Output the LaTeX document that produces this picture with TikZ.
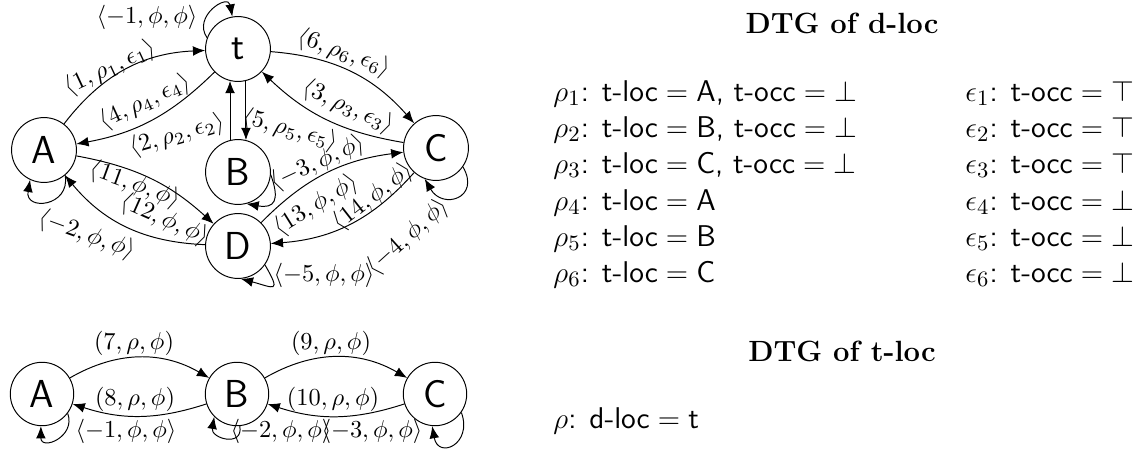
\documentclass[tikz,border=0pt]{standalone}
\usetikzlibrary{arrows.meta}
\begin{document}
\begin{tikzpicture}[x=0.41pt,y=0.41pt,
  state/.style={circle,draw,minimum size=26.6pt,inner sep=0pt,font=\sffamily\fontsize{16}{19}\selectfont},
  bstate/.style={state,minimum size=26pt},
  arr/.style={-{Latex[length=5pt,width=4pt]}},
  lbl/.style={inner sep=0pt,font=\normalsize},
  txt/.style={anchor=base west,inner sep=0pt,font=\fontsize{12.3}{15}\selectfont},
  ttl/.style={anchor=base,inner sep=0pt,font=\large\bfseries}]
\useasboundingbox (0,0) rectangle (1135,448);
% ---------- DTG of d-loc (graph) ----------
\node[state] (t) at (238,399) {t};
\node[state] (A) at (44,298) {A};
\node[state] (B) at (238,276) {B};
\node[state] (D) at (238,202) {D};
\node[state] (C) at (436,300) {C};
\draw[arr] (A) to[bend left=25] (t);
\draw[arr] (t) to[bend left=17] (A);
\draw[arr] (B.104) -- (t.256);
\draw[arr] (t.284) -- (B.76);
\draw[arr] (t) to[bend left=22] (C);
\draw[arr] (C) to[bend left=17] (t);
\draw[arr] (A) to[bend left=16] (D);
\draw[arr] (D) to[bend left=24] (A);
\draw[arr] (D) to[bend left=19] (C);
\draw[arr] (C) to[bend left=22] (D);
\draw[arr] (t.160) .. controls +(125:26) and +(100:24) .. (t.100);
\draw[arr] (A.-50) .. controls +(-80:32) and +(-100:32) .. (A.-115);
\draw[arr] (B.-5) .. controls +(-70:28) and +(-10:28) .. (B.-75);
\draw[arr] (C.-35) .. controls +(-60:36) and +(-60:36) .. (C.-110);
\draw[arr] (D.-35) .. controls +(-60:34) and +(-15:34) .. (D.-85);
\node[lbl] (lm1) at (147,431) {$\langle -1,\phi,\phi\rangle$};
\node[lbl,rotate=25] (l1) at (110,380) {$\langle 1,\rho_1,\epsilon_1\rangle$};
\node[lbl,rotate=25] (l4) at (145,346) {$\langle 4,\rho_4,\epsilon_4\rangle$};
\node[lbl,rotate=16] (l2) at (177,313) {$\langle 2,\rho_2,\epsilon_2\rangle$};
\node[lbl,rotate=-15] (l5) at (290,318) {$\langle 5,\rho_5,\epsilon_5\rangle$};
\node[lbl,rotate=-20] (l6) at (344,395) {$\langle 6,\rho_6,\epsilon_6\rangle$};
\node[lbl,rotate=-24] (l3) at (348,341) {$\langle 3,\rho_3,\epsilon_3\rangle$};
\node[lbl,rotate=25] (lm3) at (318,285) {$\langle -3,\phi,\phi\rangle$};
\node[lbl,rotate=-20] (l11) at (135,263) {$\langle 11,\phi,\phi\rangle$};
\node[lbl,rotate=-24] (l12) at (165,228) {$\langle 12,\phi,\phi\rangle$};
\node[lbl,rotate=-20] (lm2) at (87,213) {$\langle -2,\phi,\phi\rangle$};
\node[lbl,rotate=32] (l13) at (316,243) {$\langle 13,\phi,\phi\rangle$};
\node[lbl,rotate=38] (l14) at (373,251) {$\langle 14,\phi,\phi\rangle$};
\node[lbl,rotate=42] (lm4) at (408,211) {$\langle -4,\phi,\phi\rangle$};
\node[lbl] (lm5) at (324,173) {$\langle -5,\phi,\phi\rangle$};
% ---------- DTG of t-loc (graph) ----------
\node[bstate] (A2) at (42,54) {A};
\node[bstate] (B2) at (237,54) {B};
\node[bstate] (C2) at (435,54) {C};
\draw[arr] (A2) to[bend left=30] (B2);
\draw[arr] (B2) to[bend left=18] (A2);
\draw[arr] (B2) to[bend left=30] (C2);
\draw[arr] (C2) to[bend left=18] (B2);
\draw[arr] (A2.-37) .. controls +(-70:25) and +(-90:25) .. (A2.-92);
\draw[arr] (B2.-85) .. controls +(-80:22) and +(-100:22) .. (B2.-135);
\draw[arr] (C2.-35) .. controls +(-70:34) and +(-80:34) .. (C2.-95);
\node[lbl] (b7) at (134,105) {$(7,\rho,\phi)$};
\node[lbl] (b8) at (135,49) {$(8,\rho,\phi)$};
\node[lbl] (b9) at (331,105) {$(9,\rho,\phi)$};
\node[lbl] (b10) at (333,49) {$(10,\rho,\phi)$};
\node[lbl] (bm1) at (126,17) {$\langle -1,\phi,\phi\rangle$};
\node[lbl] (bm2) at (281,17) {$\langle -2,\phi,\phi\rangle$};
\node[lbl] (bm3) at (372,17) {$\langle -3,\phi,\phi\rangle$};
% ---------- text ----------
\node[ttl] (T1) at (842,415) {DTG of d-loc};
\node[txt] (r1) at (553,347) {$\rho_1\textsf{: t-loc} = \textsf{A, t-occ} = \bot$};
\node[txt] (r2) at (553,311) {$\rho_2\textsf{: t-loc} = \textsf{B, t-occ} = \bot$};
\node[txt] (r3) at (553,275) {$\rho_3\textsf{: t-loc} = \textsf{C, t-occ} = \bot$};
\node[txt] (r4) at (553,238) {$\rho_4\textsf{: t-loc} = \textsf{A}$};
\node[txt] (r5) at (553,202) {$\rho_5\textsf{: t-loc} = \textsf{B}$};
\node[txt] (r6) at (553,166) {$\rho_6\textsf{: t-loc} = \textsf{C}$};
\node[txt] (e1) at (965,347) {$\epsilon_1\textsf{: t-occ} = \top$};
\node[txt] (e2) at (965,311) {$\epsilon_2\textsf{: t-occ} = \top$};
\node[txt] (e3) at (965,275) {$\epsilon_3\textsf{: t-occ} = \top$};
\node[txt] (e4) at (965,238) {$\epsilon_4\textsf{: t-occ} = \bot$};
\node[txt] (e5) at (965,202) {$\epsilon_5\textsf{: t-occ} = \bot$};
\node[txt] (e6) at (965,166) {$\epsilon_6\textsf{: t-occ} = \bot$};
\node[ttl] (T2) at (842,87) {DTG of t-loc};
\node[txt] (rr) at (553,20) {$\rho\textsf{: d-loc} = \textsf{t}$};
\end{tikzpicture}
\end{document}
